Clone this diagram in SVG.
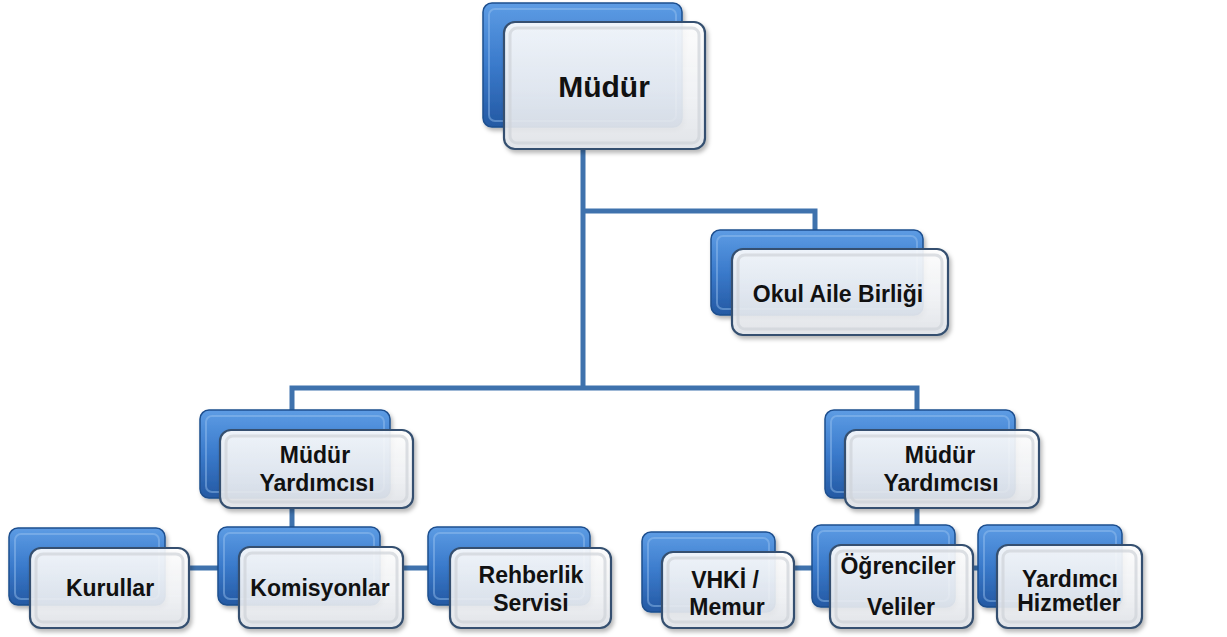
<svg xmlns="http://www.w3.org/2000/svg" width="1227" height="637" viewBox="0 0 1227 637">
<defs>
<linearGradient id="gBlue" x1="0" y1="0" x2="0" y2="1">
<stop offset="0" stop-color="#5d9ce4"/>
<stop offset="0.5" stop-color="#3a7acb"/>
<stop offset="1" stop-color="#2459a3"/>
</linearGradient>
<linearGradient id="gFront" x1="0" y1="0" x2="0" y2="1">
<stop offset="0" stop-color="#ffffff" stop-opacity="0.9"/>
<stop offset="0.6" stop-color="#f2f4f7" stop-opacity="0.88"/>
<stop offset="1" stop-color="#e2e5ea" stop-opacity="0.9"/>
</linearGradient>
<filter id="sh" x="-10%" y="-10%" width="130%" height="130%">
<feDropShadow dx="2" dy="3" stdDeviation="2" flood-color="#000" flood-opacity="0.3"/>
</filter>
</defs>
<style>
.back{fill:url(#gBlue);stroke:#1e4f8f;stroke-width:1.5;filter:url(#sh)}
.bevB{fill:none;stroke:#9cc4f0;stroke-opacity:0.45;stroke-width:2}
.front{fill:url(#gFront);stroke:#34506f;stroke-width:2.2;filter:url(#sh)}
.bevF{fill:none;stroke:#cfd3d9;stroke-width:3;stroke-opacity:0.7}
.con{fill:none;stroke:#3f72ad;stroke-width:5;stroke-linejoin:miter}
.t{font-family:"Liberation Sans",Arial,sans-serif;font-weight:bold;font-size:23px;fill:#111;text-anchor:middle}
.tb{font-size:30px}
</style>
<rect width="1227" height="637" fill="#ffffff"/>
<g id="connectors">
<path class="con" d="M583,150 V388"/>
<path class="con" d="M583,211 H815 V232"/>
<path class="con" d="M292,411 V388 H917 V411"/>
<path class="con" d="M292,508 V528"/>
<path class="con" d="M917,508 V526"/>
<path class="con" d="M189,568 H219"/>
<path class="con" d="M403,568 H429"/>
<path class="con" d="M794,568 H813"/>
<path class="con" d="M973,568 H979"/>
</g>
<g id="mudur">
<rect class="back" x="483" y="3" width="199" height="124" rx="9"/>
<rect class="bevB" x="489" y="9" width="187" height="112" rx="6"/>
<rect class="front" x="504" y="22" width="201" height="127" rx="11"/>
<rect class="bevF" x="510" y="28" width="189" height="115" rx="7"/>
<text class="t tb" x="604" y="97">Müdür</text>
</g>
<g id="okul-aile-birligi">
<rect class="back" x="711" y="230" width="212" height="85" rx="9"/>
<rect class="bevB" x="717" y="236" width="200" height="73" rx="6"/>
<rect class="front" x="732" y="249" width="216" height="86" rx="11"/>
<rect class="bevF" x="738" y="255" width="204" height="74" rx="7"/>
<text class="t" x="838" y="302">Okul Aile Birliği</text>
</g>
<g id="mudur-yardimcisi-1">
<rect class="back" x="200" y="410" width="190" height="88" rx="9"/>
<rect class="bevB" x="206" y="416" width="178" height="76" rx="6"/>
<rect class="front" x="220" y="430" width="193" height="78" rx="11"/>
<rect class="bevF" x="226" y="436" width="181" height="66" rx="7"/>
<text class="t" x="315" y="463">Müdür</text>
<text class="t" x="317" y="491">Yardımcısı</text>
</g>
<g id="mudur-yardimcisi-2">
<rect class="back" x="825" y="410" width="190" height="88" rx="9"/>
<rect class="bevB" x="831" y="416" width="178" height="76" rx="6"/>
<rect class="front" x="845" y="430" width="194" height="78" rx="11"/>
<rect class="bevF" x="851" y="436" width="182" height="66" rx="7"/>
<text class="t" x="940" y="463">Müdür</text>
<text class="t" x="941" y="491">Yardımcısı</text>
</g>
<g id="kurullar">
<rect class="back" x="9" y="528" width="156" height="77" rx="9"/>
<rect class="bevB" x="15" y="534" width="144" height="65" rx="6"/>
<rect class="front" x="30" y="548" width="159" height="80" rx="11"/>
<rect class="bevF" x="36" y="554" width="147" height="68" rx="7"/>
<text class="t" x="110" y="596">Kurullar</text>
</g>
<g id="komisyonlar">
<rect class="back" x="218" y="527" width="162" height="78" rx="9"/>
<rect class="bevB" x="224" y="533" width="150" height="66" rx="6"/>
<rect class="front" x="239" y="547" width="164" height="81" rx="11"/>
<rect class="bevF" x="245" y="553" width="152" height="69" rx="7"/>
<text class="t" x="320" y="596">Komisyonlar</text>
</g>
<g id="rehberlik-servisi">
<rect class="back" x="428" y="527" width="162" height="78" rx="9"/>
<rect class="bevB" x="434" y="533" width="150" height="66" rx="6"/>
<rect class="front" x="450" y="548" width="161" height="80" rx="11"/>
<rect class="bevF" x="456" y="554" width="149" height="68" rx="7"/>
<text class="t" x="531" y="583">Rehberlik</text>
<text class="t" x="531" y="611">Servisi</text>
</g>
<g id="vhki-memur">
<rect class="back" x="642" y="532" width="133" height="80" rx="9"/>
<rect class="bevB" x="648" y="538" width="121" height="68" rx="6"/>
<rect class="front" x="662" y="552" width="132" height="76" rx="11"/>
<rect class="bevF" x="668" y="558" width="120" height="64" rx="7"/>
<text class="t" x="725" y="588">VHKİ /</text>
<text class="t" x="727" y="615">Memur</text>
</g>
<g id="ogrenciler-veliler">
<rect class="back" x="812" y="525" width="143" height="82" rx="9"/>
<rect class="bevB" x="818" y="531" width="131" height="70" rx="6"/>
<rect class="front" x="830" y="545" width="143" height="83" rx="11"/>
<rect class="bevF" x="836" y="551" width="131" height="71" rx="7"/>
<text class="t" x="898" y="574">Öğrenciler</text>
<text class="t" x="901" y="615">Veliler</text>
</g>
<g id="yardimci-hizmetler">
<rect class="back" x="978" y="525" width="144" height="82" rx="9"/>
<rect class="bevB" x="984" y="531" width="132" height="70" rx="6"/>
<rect class="front" x="997" y="545" width="145" height="83" rx="11"/>
<rect class="bevF" x="1003" y="551" width="133" height="71" rx="7"/>
<text class="t" x="1070" y="587">Yardımcı</text>
<text class="t" x="1069" y="611">Hizmetler</text>
</g>
</svg>
